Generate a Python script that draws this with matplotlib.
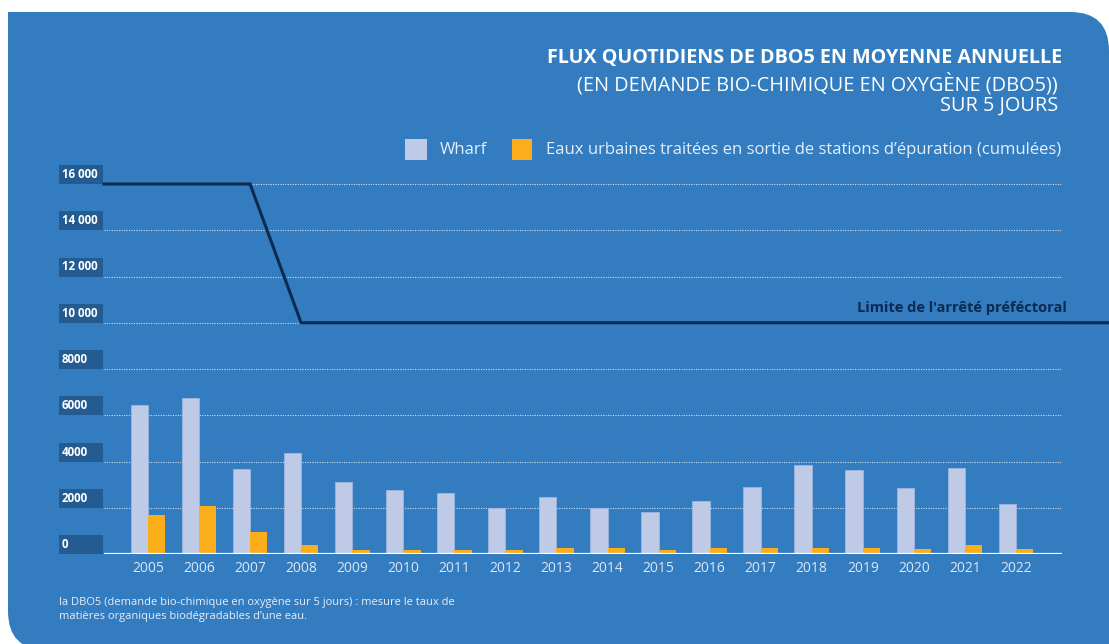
import matplotlib
matplotlib.use("Agg")
import matplotlib.pyplot as plt
import numpy as np
from matplotlib.patches import FancyBboxPatch, Rectangle
from matplotlib.transforms import blended_transform_factory

# data
years = [2005, 2006, 2007, 2008, 2009, 2010, 2011, 2012, 2013,
         2014, 2015, 2016, 2017, 2018, 2019, 2020, 2021, 2022]
wharf = [6450, 6730, 3660, 4350, 3130, 2770, 2620, 1980, 2450,
         1980, 1820, 2300, 2910, 3850, 3620, 2840, 3730, 2150]
eaux_urbaines = [1690, 2080, 950, 390, 190, 190, 190, 190, 270,
                 270, 190, 270, 270, 270, 270, 230, 390, 230]
limit_years = [2004.14, 2007, 2008, 2023.82]
limit_values = [16000, 16000, 10000, 10000]
y_ticks = [0, 2000, 4000, 6000, 8000, 10000, 12000, 14000, 16000]
y_labels = ["0", "2000", "4000", "6000", "8000", "10 000", "12 000", "14 000", "16 000"]

BG = "#337cc0"
LIGHT = "#bfcbe6"
ORANGE = "#fbad1a"
BOX = "#245c92"
NAVY = "#0c2a50"
FONT = "Open Sans"

W, H = 1109, 644


def fx(x):
    return x / W


def fy(y):
    return 1 - y / H


fig = plt.figure(figsize=(W / 100, H / 100), dpi=100)
fig.patch.set_facecolor("white")

# rounded blue panel, only top-right and bottom-left corners rounded
panel = FancyBboxPatch((fx(8), fy(650)), fx(1109) - fx(8), fy(12) - fy(650),
                       boxstyle="round,pad=0,rounding_size=0.035",
                       mutation_aspect=W / H,
                       transform=fig.transFigure, facecolor=BG, edgecolor="none", zorder=-2)
fig.patches.append(panel)
fig.patches.append(Rectangle((fx(8), fy(80)), fx(80) - fx(8), fy(12) - fy(80),
                             transform=fig.transFigure, facecolor=BG, edgecolor="none", zorder=-2))
fig.patches.append(Rectangle((fx(1000), fy(650)), fx(110), fy(560) - fy(650),
                             transform=fig.transFigure, facecolor=BG, edgecolor="none", zorder=-2))

ax = fig.add_axes([fx(104), fy(554), fx(1062) - fx(104), fy(184) - fy(554)], zorder=2)
ax.set_facecolor("none")

x = np.arange(len(years))
bw = 0.34
ax.bar(x - bw / 2, wharf, bw, color=LIGHT, edgecolor="#9db7e0", linewidth=0.6, zorder=3)
ax.bar(x + bw / 2, eaux_urbaines, bw, color=ORANGE, zorder=3)

# limit line (years mapped to bar positions)
lx = [y - years[0] for y in limit_years]
ax.plot(lx, limit_values, color=NAVY, lw=2.2, zorder=4, clip_on=False,
        solid_joinstyle="miter")
ax.text(1.005, 10000 + 330, "Limite de l'arrêté préféctoral",
        transform=blended_transform_factory(ax.transAxes, ax.transData),
        ha="right", va="bottom", color=NAVY, fontsize=10.5, fontweight="bold",
        family=FONT)

ax.set_xlim(-0.86, 17.9)
ax.set_ylim(0, 16000)

for v in y_ticks[1:]:
    ax.axhline(v, color="white", lw=0.8, ls=(0, (1, 1.2)), alpha=0.75, zorder=1)
ax.axhline(0, color="white", lw=1.6, zorder=5)

# y tick label boxes
tr = blended_transform_factory(ax.transAxes, ax.transData)
box_h = 19 / 370 * 16000
for v, lab in zip(y_ticks, y_labels):
    ax.add_patch(Rectangle(((59 - 104) / 958, v), 44 / 958, box_h, transform=tr,
                           facecolor=BOX, edgecolor="none", clip_on=False, zorder=2))
    ax.text((62 - 104) / 958, v + box_h / 2, lab, transform=tr, ha="left", va="center",
            color="white", fontsize=8.3, fontweight="bold", family=FONT)

ax.set_xticks(x)
ax.set_xticklabels([str(y) for y in years], color="#dce7f6", fontsize=10, family=FONT)
ax.tick_params(axis="x", length=0, pad=5)
ax.set_yticks([])
for s in ax.spines.values():
    s.set_visible(False)

# titles
fig.text(fx(1062), fy(58), "FLUX QUOTIDIENS DE DBO5 EN MOYENNE ANNUELLE", ha="right",
         va="center", color="white", fontsize=14.2, fontweight="bold", family=FONT)
fig.text(fx(1058), fy(84), "(EN DEMANDE BIO-CHIMIQUE EN OXYGÈNE (DBO5))", ha="right",
         va="center", color="white", fontsize=14.3, family=FONT)
fig.text(fx(1058), fy(106), "SUR 5 JOURS", ha="right",
         va="center", color="white", fontsize=14.3, family=FONT)

# legend
fig.patches.append(Rectangle((fx(405), fy(160)), fx(22), fy(139) - fy(160),
                             transform=fig.transFigure, facecolor=LIGHT, edgecolor="none"))
fig.text(fx(440), fy(150), "Wharf", ha="left", va="center", color="#e6eefa",
         fontsize=12, family=FONT)
fig.patches.append(Rectangle((fx(512), fy(160)), fx(20), fy(139) - fy(160),
                             transform=fig.transFigure, facecolor=ORANGE, edgecolor="none"))
fig.text(fx(546), fy(150), "Eaux urbaines traitées en sortie de stations d’épuration (cumulées)",
         ha="left", va="center", color="#e6eefa", fontsize=12, family=FONT)

# footnote
fig.text(fx(59), fy(603), "la DBO5 (demande bio-chimique en oxygène sur 5 jours) : mesure le taux de",
         ha="left", va="center", color="#e6eefa", fontsize=8, family=FONT)
fig.text(fx(59), fy(617), "matières organiques biodégradables d’une eau.",
         ha="left", va="center", color="#e6eefa", fontsize=8, family=FONT)

fig.savefig("out.png", dpi=100)
